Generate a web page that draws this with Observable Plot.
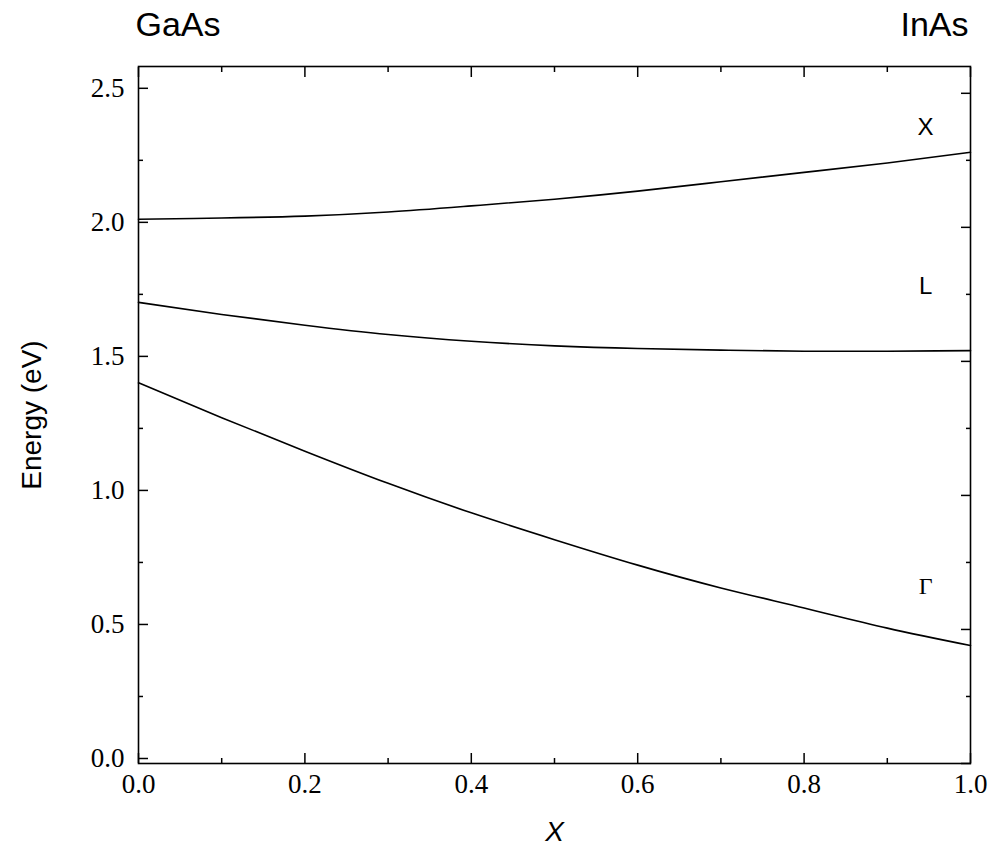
<!DOCTYPE html>
<html>
<head>
<meta charset="utf-8">
<script src="https://cdn.jsdelivr.net/npm/d3@7"></script>
<script src="https://cdn.jsdelivr.net/npm/@observablehq/plot@0.6"></script>
<style>
  html, body { margin: 0; padding: 0; background: #fff; }
  #chart svg { display: block; }
</style>
</head>
<body>
<div id="chart"></div>
<script>
// Composition x (In fraction) of In(x)Ga(1-x)As
const composition = [0, 0.1, 0.2, 0.3, 0.4, 0.5, 0.6, 0.7, 0.8, 0.9, 1.0];
// Band edges (eV)
const gammaValley = [1.42, 1.29, 1.165, 1.045, 0.935, 0.835, 0.74, 0.655, 0.58, 0.505, 0.44];
const lValley     = [1.72, 1.675, 1.635, 1.60, 1.575, 1.558, 1.548, 1.542, 1.538, 1.538, 1.54];
const xValley     = [2.03, 2.035, 2.042, 2.057, 2.08, 2.105, 2.135, 2.17, 2.205, 2.24, 2.28];

// Band labels
const bandNames  = ["X", "L", "Γ"];
const bandLabelX = [0.946, 0.946, 0.946];
const bandLabelY = [2.375, 1.78, 0.66];
const bandFonts  = ["sans", "sans", "serif"];

// End-member labels
const endNames = ["GaAs", "InAs"];
const endX = [0, 1];

// Ticks
const xMajor = [0, 0.2, 0.4, 0.6, 0.8, 1.0];
const xMinor = [0.1, 0.3, 0.5, 0.7, 0.9];
const yMajor = [0, 0.5, 1.0, 1.5, 2.0, 2.5];
const yMinor = [0.25, 0.75, 1.25, 1.75, 2.25];

// Axis titles
const xTitle = "X";
const yTitle = "Energy (eV)";

const series = [
  ["Γ", gammaValley], ["L", lValley], ["X", xValley]
].flatMap(([band, vals]) => composition.map((c, i) => ({band, x: c, e: vals[i]})));

const bandLabels = bandNames.map((t, i) => ({t, x: bandLabelX[i], y: bandLabelY[i], f: bandFonts[i]}));
const endLabels = endNames.map((t, i) => ({t, x: endX[i], y: 2.6}));

const fmt = d3.format(".1f");
const serif = "Liberation Serif, Times New Roman, serif";
const sans = "Liberation Sans, Arial, sans-serif";
const blank = () => "";

const chart = Plot.plot({
  width: 997,
  height: 852,
  marginLeft: 138,
  marginRight: 27,
  marginTop: 66,
  marginBottom: 89,
  style: {background: "white", color: "black"},
  x: {domain: [0, 1]},
  y: {domain: [0, 2.6]},
  marks: [
    // bottom axis: labels + inward major ticks
    Plot.axisX({anchor: "bottom", ticks: xMajor, tickSize: -10, tickPadding: 20, tickFormat: fmt,
      fontSize: 27, fontFamily: serif, label: null, strokeWidth: 1.5}),
    Plot.axisX({anchor: "bottom", ticks: xMinor, tickSize: -5, tickFormat: blank, label: null, strokeWidth: 1.5}),
    Plot.axisX({anchor: "top", ticks: xMajor, tickSize: -10, tickFormat: blank, label: null, strokeWidth: 1.5}),
    Plot.axisX({anchor: "top", ticks: xMinor, tickSize: -5, tickFormat: blank, label: null, strokeWidth: 1.5}),
    // left axis
    Plot.axisY({anchor: "left", ticks: yMajor, tickSize: -10, tickPadding: 24, tickFormat: fmt,
      fontSize: 27, fontFamily: serif, label: null, dy: -5, strokeWidth: 1.5}),
    Plot.axisY({anchor: "left", ticks: yMinor, tickSize: -5, tickFormat: blank, label: null, strokeWidth: 1.5}),
    Plot.axisY({anchor: "right", ticks: yMajor, tickSize: -10, tickFormat: blank, label: null, strokeWidth: 1.5}),
    Plot.axisY({anchor: "right", ticks: yMinor, tickSize: -5, tickFormat: blank, label: null, strokeWidth: 1.5}),
    Plot.frame({stroke: "black", strokeWidth: 1.6}),
    // curves
    Plot.line(series, {x: "x", y: "e", z: "band", stroke: "black", strokeWidth: 1.6, curve: "natural"}),
    // band labels
    Plot.text(bandLabels.filter(d => d.f === "sans"), {x: "x", y: "y", text: "t", fontSize: 24,
      fontFamily: sans, fill: "black"}),
    Plot.text(bandLabels.filter(d => d.f === "serif"), {x: "x", y: "y", text: "t", fontSize: 24,
      fontFamily: serif, fill: "black"}),
    // end-member labels
    Plot.text(endLabels.slice(0, 1), {x: "x", y: "y", text: "t", textAnchor: "start", dx: -3, dy: -41,
      fontSize: 34, fontFamily: sans, fill: "black"}),
    Plot.text(endLabels.slice(1), {x: "x", y: "y", text: "t", textAnchor: "end", dx: -2, dy: -41,
      fontSize: 34, fontFamily: sans, fill: "black"}),
    // axis titles
    Plot.text([yTitle], {frameAnchor: "left", textAnchor: "middle", text: d => d, rotate: -90, dx: -106,
      fontSize: 28, fontFamily: sans, fill: "black"}),
    Plot.text([xTitle], {frameAnchor: "bottom", text: d => d, dy: 77, fontSize: 28,
      fontFamily: sans, fontStyle: "italic", fill: "black"})
  ]
});

document.getElementById("chart").appendChild(chart);
</script>
</body>
</html>
